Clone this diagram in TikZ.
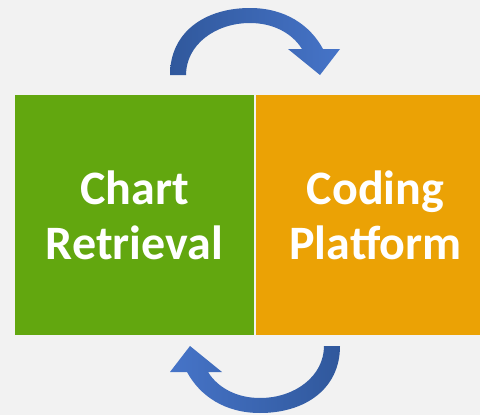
\documentclass[tikz,border=0pt]{standalone}
\usepackage{fontspec}
\setmainfont{Carlito}
\definecolor{bg}{RGB}{242,242,242}
\definecolor{boxgreen}{RGB}{98,167,15}
\definecolor{boxorange}{RGB}{235,162,5}
\definecolor{arrdark}{RGB}{48,88,156}
\definecolor{arrlight}{RGB}{70,116,200}
\tikzset{
  block/.style={rectangle, minimum width=239pt, minimum height=240pt, inner sep=0pt,
    text=white, align=center, font=\bfseries\fontsize{48}{55}\selectfont},
}
\begin{document}
\begin{tikzpicture}[x=1pt,y=-1pt]
\fill[bg] (0,0) rectangle (480,415);
\useasboundingbox (0,0) rectangle (480,415);
\node[block, fill=boxgreen] (chart) at (134.5,215) {Chart\\Retrieval};
\node[block, fill=boxorange] (coding) at (375.5,215) {Coding\\Platform};
% top curved arrow
\shade[left color=arrdark, right color=arrlight]
  (170,75) .. controls (170,32) and (205,8) .. (250,8)
  .. controls (285,8) and (310,25) .. (323,49)
  -- (340,49) -- (320,75) -- (288,49) -- (302,49)
  .. controls (292,33) and (273,23) .. (250,23)
  .. controls (215,23) and (186,45) .. (186,75) -- cycle;
% bottom curved arrow
\shade[left color=arrlight, right color=arrdark]
  (340,346) .. controls (340,389) and (305,413) .. (260,413)
  .. controls (225,413) and (200,396) .. (187,372)
  -- (170,372) -- (190,346) -- (222,372) -- (208,372)
  .. controls (218,388) and (237,398) .. (260,398)
  .. controls (295,398) and (324,376) .. (324,346) -- cycle;
\end{tikzpicture}
\end{document}
